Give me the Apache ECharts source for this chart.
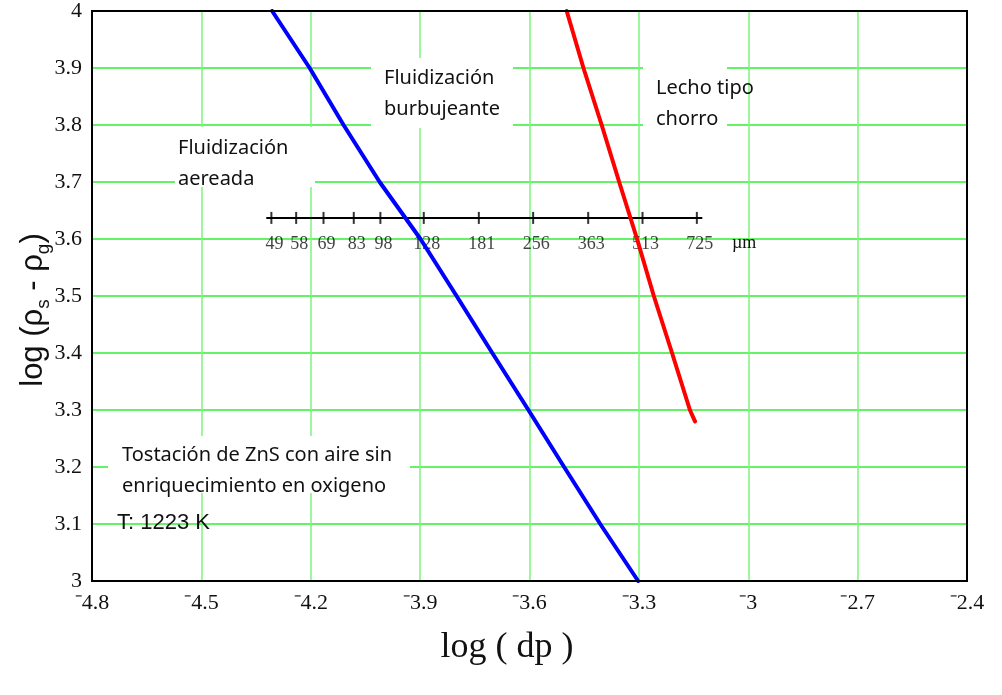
<!DOCTYPE html>
<html>
<head>
<meta charset="utf-8">
<script src="https://cdn.jsdelivr.net/npm/echarts@6/dist/echarts.min.js"></script>
<style>html,body{margin:0;padding:0;background:#fff;}#c{width:1002px;height:695px;}</style>
</head>
<body>
<div id="c"></div>
<script>
// Blue boundary: aereada / burbujeante
const blueX = [-4.306, -4.203, -4.110, -4.011, -3.899, -3.800, -3.702, -3.603, -3.505, -3.406, -3.302];
const blueY = [4.0, 3.9, 3.8, 3.7, 3.6, 3.5, 3.4, 3.3, 3.2, 3.1, 3.0];
// Red boundary: burbujeante / lecho tipo chorro
const redX = [-3.498, -3.452, -3.402, -3.354, -3.305, -3.259, -3.209, -3.160, -3.146];
const redY = [4.0, 3.9, 3.8, 3.7, 3.6, 3.5, 3.4, 3.3, 3.28];
// Particle size scale (µm)
const scaleLabels = ['49', '58', '69', '83', '98', '128', '181', '256', '363', '513', '725'];
const scaleTickX = [-4.308, -4.240, -4.165, -4.082, -4.009, -3.890, -3.739, -3.590, -3.439, -3.290, -3.141];
const scaleY = 3.637;
const scaleLineX = [-4.322, -3.126];
// Axis tick values
const xTicks = [-4.8, -4.5, -4.2, -3.9, -3.6, -3.3, -3.0, -2.7, -2.4];
const yTicks = [3.0, 3.1, 3.2, 3.3, 3.4, 3.5, 3.6, 3.7, 3.8, 3.9, 4.0];

const chart = echarts.init(document.getElementById('c'), null, {renderer: 'canvas'});
const zip = (xs, ys) => xs.map((x, i) => [x, ys[i]]);
const fmtX = v => {
  const r = Math.round(v * 10) / 10;
  const s = Math.abs(r).toString();
  return (r < 0 ? '\u207B' : '') + s;
};
const sans = 'Noto Sans';
const txt = (x, y, text, size, fam) => ({
  type: 'text', left: x, top: y, z: 1,
  style: {text: text, font: size + 'px "' + fam + '"', fill: '#111', lineHeight: 31}
});
const box = (x, y, w, h) => ({type: 'rect', shape: {x: x, y: y, width: w, height: h}, style: {fill: '#fff'}, z: 1});

chart.setOption({
  animation: false,
  backgroundColor: '#fff',
  grid: {left: 92, top: 11, right: 35, bottom: 114, show: false},
  xAxis: {
    type: 'value', min: -4.8, max: -2.4, interval: 0.3,
    axisLine: {show: false}, axisTick: {show: false},
    axisLabel: {formatter: fmtX, fontFamily: 'Liberation Serif', fontSize: 22, color: '#111', margin: 11},
    splitLine: {show: true, lineStyle: {color: '#7cf57c', width: 1.5}}
  },
  yAxis: {
    type: 'value', min: 3, max: 4, interval: 0.1,
    axisLine: {show: false}, axisTick: {show: false},
    axisLabel: {formatter: v => (Math.round(v * 10) / 10).toString(), fontFamily: 'Liberation Serif', fontSize: 22, color: '#111', margin: 10},
    splitLine: {show: true, lineStyle: {color: '#33ee33', width: 1.5}}
  },
  series: [
    {type: 'line', data: zip(blueX, blueY), showSymbol: false, lineStyle: {color: '#0000ff', width: 4, cap: 'round'}, z: 5},
    {type: 'line', data: zip(redX, redY), showSymbol: false, lineStyle: {color: '#ff0000', width: 4, cap: 'round'}, z: 5},
    {type: 'line', data: scaleLineX.map(x => [x, scaleY]), showSymbol: false, lineStyle: {color: '#000', width: 2}, z: 4},
    {type: 'scatter', data: scaleTickX.map(x => [x, scaleY]), symbol: 'rect', symbolSize: [2, 12],
     itemStyle: {color: '#000'}, z: 4,
     label: {show: true, position: 'inside', offset: [3, 26], formatter: p => scaleLabels[p.dataIndex],
             fontFamily: 'Liberation Serif', fontSize: 18, color: '#111'}}
  ],
  graphic: [
    box(175, 127, 140, 60),
    box(371, 58, 142, 70),
    box(643, 58, 84, 70),
    box(108, 436, 302, 57),
    txt(178, 133, 'Fluidización\naereada', 20, sans),
    txt(384, 63, 'Fluidización\nburbujeante', 20, sans),
    txt(656, 73, 'Lecho tipo\nchorro', 20, sans),
    txt(122, 440, 'Tostación de ZnS con aire sin\nenriquecimiento en oxigeno', 20, sans),
    {type: 'text', left: 117, top: 512, z: 1, style: {text: 'T: 1223 K', font: '22px "Liberation Sans"', fill: '#111'}},
    {type: 'text', left: 732, top: 234, z: 1, style: {text: 'µm', font: '18px "Liberation Serif"', fill: '#111'}},
    {type: 'text', x: 507, y: 648, z: 1, style: {text: 'log ( dp )', font: '36px "Liberation Serif"', fill: '#111', textAlign: 'center', textVerticalAlign: 'middle'}},
    {type: 'text', x: 33, y: 310, rotation: Math.PI / 2, z: 1,
     style: {
       text: '{a|log (ρ}{s|s}{a| - ρ}{s|g}{a|)}', textAlign: 'center', textVerticalAlign: 'middle',
       rich: {
         a: {fontFamily: 'Liberation Sans', fontSize: 31, fill: '#111', lineHeight: 40},
         s: {fontFamily: 'Liberation Sans', fontSize: 19, fill: '#111', lineHeight: 40, verticalAlign: 'bottom', padding: [16, 0, 0, 0]}
       }
     }},
    {type: 'rect', shape: {x: 92, y: 11, width: 875, height: 570}, style: {fill: 'none', stroke: '#000', lineWidth: 2}, z: 10}
  ]
});
</script>
</body>
</html>
